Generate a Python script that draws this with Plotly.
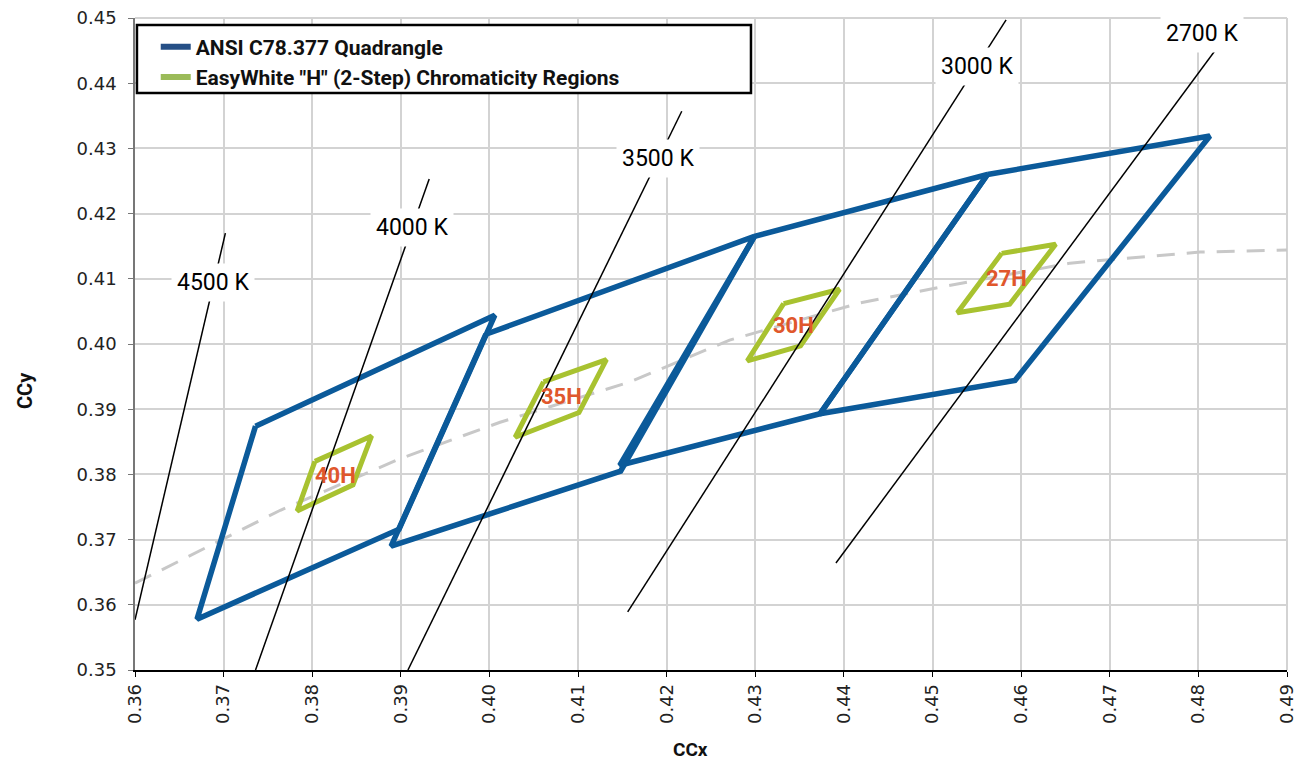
import plotly.graph_objects as go

# ---------------- data ----------------
# ANSI C78.377 quadrangles (corner x, y), closed
quad_names = ["4000K", "3500K", "3000K", "2700K"]
quad_x = [
    [0.3736, 0.4006, 0.3898, 0.3670, 0.3736],
    [0.3996, 0.4299, 0.4148, 0.3889, 0.3996],
    [0.4299, 0.4562, 0.4373, 0.4147, 0.4299],
    [0.4562, 0.4813, 0.4593, 0.4373, 0.4562],
]
quad_y = [
    [0.3874, 0.4044, 0.3716, 0.3578, 0.3874],
    [0.4015, 0.4165, 0.3805, 0.3690, 0.4015],
    [0.4165, 0.4260, 0.3893, 0.3814, 0.4165],
    [0.4260, 0.4319, 0.3944, 0.3893, 0.4260],
]

# EasyWhite "H" 2-step regions (corner x, y), closed
h_names = ["40H", "35H", "30H", "27H"]
h_x = [
    [0.3803, 0.3867, 0.3846, 0.3783, 0.3803],
    [0.4061, 0.4132, 0.4101, 0.4029, 0.4061],
    [0.4332, 0.4395, 0.4351, 0.4291, 0.4332],
    [0.4578, 0.4639, 0.4587, 0.4528, 0.4578],
]
h_y = [
    [0.3820, 0.3859, 0.3784, 0.3744, 0.3820],
    [0.3942, 0.3976, 0.3895, 0.3857, 0.3942],
    [0.4062, 0.4084, 0.3997, 0.3974, 0.4062],
    [0.4139, 0.4153, 0.4061, 0.4048, 0.4139],
]
h_label_x = [0.3826, 0.4081, 0.4343, 0.4583]
h_label_y = [0.3799, 0.3919, 0.4028, 0.4100]

# Planckian locus (dashed)
locus_x = [0.3600, 0.3764, 0.3899, 0.4012, 0.4159, 0.4271, 0.4418, 0.4508, 0.4655, 0.4802, 0.4900]
locus_y = [0.3633, 0.3745, 0.3824, 0.3880, 0.3942, 0.4006, 0.4063, 0.4087, 0.4124, 0.4141, 0.4144]

# CCT isotherm lines (start, end)
cct_names = ["4500 K", "4000 K", "3500 K", "3000 K", "2700 K"]
cct_x = [[0.3600, 0.3702], [0.3736, 0.3932], [0.3908, 0.4217], [0.4156, 0.4583], [0.4391, 0.4846]]
cct_y = [[0.3577, 0.4170], [0.3500, 0.4253], [0.3500, 0.4357], [0.3589, 0.4497], [0.3664, 0.4500]]
cct_label_x = [0.3688, 0.3913, 0.4190, 0.4550, 0.4804]
cct_label_y = [0.4095, 0.4178, 0.4285, 0.4425, 0.4477]

x_ticks = [0.36, 0.37, 0.38, 0.39, 0.40, 0.41, 0.42, 0.43, 0.44, 0.45, 0.46, 0.47, 0.48, 0.49]
y_ticks = [0.35, 0.36, 0.37, 0.38, 0.39, 0.40, 0.41, 0.42, 0.43, 0.44, 0.45]

legend_names = ["ANSI C78.377 Quadrangle", 'EasyWhite "H" (2-Step) Chromaticity Regions']

# ---------------- styles ----------------
BLUE = "#0b5a9a"
GREEN = "#a8c230"
LEG_BLUE = "#254f86"
LEG_GREEN = "#9bbb59"
H_TEXT = "#e0572c"
GRID = "#d3d3d3"

fig = go.Figure()

fig.add_trace(go.Scatter(x=locus_x, y=locus_y, mode="lines",
                         line=dict(color="#c8c8c8", width=3, dash="18px,12px"),
                         showlegend=False, hoverinfo="skip"))

for qx, qy in zip(quad_x, quad_y):
    fig.add_trace(go.Scatter(x=qx, y=qy, mode="lines",
                             line=dict(color=BLUE, width=5.5),
                             showlegend=False, hoverinfo="skip"))

for hx, hy in zip(h_x, h_y):
    fig.add_trace(go.Scatter(x=hx, y=hy, mode="lines",
                             line=dict(color=GREEN, width=5),
                             showlegend=False, hoverinfo="skip"))

for cx, cy in zip(cct_x, cct_y):
    fig.add_trace(go.Scatter(x=cx, y=cy, mode="lines",
                             line=dict(color="black", width=1.5),
                             showlegend=False, hoverinfo="skip"))

# legend-only traces
fig.add_trace(go.Scatter(x=[None], y=[None], mode="lines", name=legend_names[0],
                         line=dict(color=LEG_BLUE, width=6)))
fig.add_trace(go.Scatter(x=[None], y=[None], mode="lines", name=legend_names[1],
                         line=dict(color=LEG_GREEN, width=6)))

annotations = []
for name, lx, ly in zip(h_names, h_label_x, h_label_y):
    annotations.append(dict(x=lx, y=ly, xref="x", yref="y", text=name, showarrow=False,
                            font=dict(family="Roboto", size=22, color=H_TEXT, weight="bold")))
for name, lx, ly in zip(cct_names, cct_label_x, cct_label_y):
    annotations.append(dict(x=lx, y=ly, xref="x", yref="y", text=name, showarrow=False,
                            bgcolor="white", borderpad=5,
                            font=dict(family="Roboto", size=23, color="black")))

annotations.append(dict(x=0.4818, y=-0.122, xref="paper", yref="paper", text="CCx",
                        xanchor="center", yanchor="middle",
                        showarrow=False, font=dict(family="Roboto", size=19, color="#111", weight="bold")))
annotations.append(dict(x=-0.0955, y=0.4294, xref="paper", yref="paper", text="CCy", textangle=-90,
                        xanchor="center", yanchor="middle",
                        showarrow=False, font=dict(family="Roboto", size=20, color="#111", weight="bold")))

# page body has an 8px margin, so the figure is sized to fit inside the window
fig.update_layout(
    width=1295, height=755,
    margin=dict(l=127, r=16, t=10, b=93, autoexpand=False),
    paper_bgcolor="white", plot_bgcolor="white",
    annotations=annotations,
    shapes=[
        dict(type="line", xref="paper", yref="paper", x0=0, x1=1, y0=1, y1=1,
             line=dict(color=GRID, width=2), layer="below"),
        dict(type="line", xref="paper", yref="paper", x0=1, x1=1, y0=0, y1=1,
             line=dict(color=GRID, width=2), layer="below"),
        dict(type="rect", xref="paper", yref="paper", x0=0.0017, x1=0.5347, y0=0.885, y1=0.9893,
             line=dict(color="black", width=2.5), fillcolor="white", layer="above"),
    ],
    legend=dict(x=0.018, y=0.987, xanchor="left", yanchor="top",
                bgcolor="rgba(0,0,0,0)", borderwidth=0,
                font=dict(family="Roboto", size=21, color="#111", weight="bold"),
                tracegroupgap=0, itemwidth=30),
)

fig.update_xaxes(range=[0.36, 0.49], tickvals=x_ticks, ticktext=[f"{v:.2f}" for v in x_ticks],
                 tickangle=-90, showgrid=True, gridcolor=GRID, gridwidth=2,
                 showline=True, linecolor="black", linewidth=1.5, mirror=False,
                 ticks="outside", ticklen=5, tickcolor="black", ticklabeloverflow="allow",
                 tickfont=dict(family="DejaVu Sans", size=18, color="#222"), zeroline=False)
fig.update_yaxes(range=[0.35, 0.45], tickvals=y_ticks, ticktext=[f"{v:.2f}" for v in y_ticks],
                 showgrid=True, gridcolor=GRID, gridwidth=2,
                 showline=True, linecolor="#777", linewidth=1.5,
                 ticks="outside", ticklen=5, tickcolor="#777", ticklabelstandoff=8,
                 ticklabeloverflow="allow",
                 tickfont=dict(family="DejaVu Sans", size=18, color="#222"), zeroline=False)

fig.write_html("out.html")
